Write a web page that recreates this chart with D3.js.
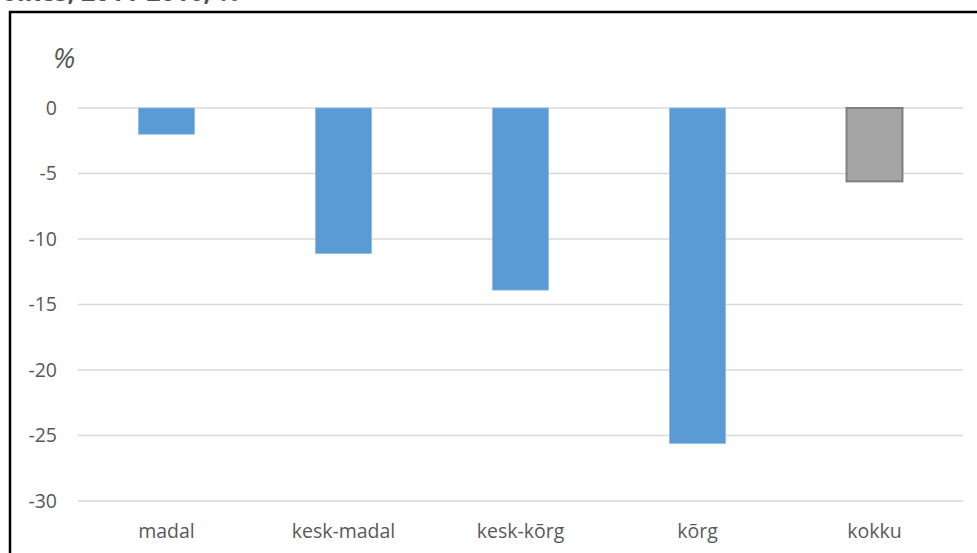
<!DOCTYPE html>
<html><head><meta charset="utf-8">
<script src="https://cdn.jsdelivr.net/npm/d3@7"></script>
<style>body{margin:0;background:#fff;} svg{display:block;}</style>
</head><body>
<svg id="c" width="977" height="553"></svg>
<script>
const categories = ["madal", "kesk-madal", "kesk-kõrg", "kõrg", "kokku"];
const values = [-2.0, -11.1, -13.9, -25.6, -5.6];
const yTicks = [0, -5, -10, -15, -20, -25, -30];
const totalCategory = "kokku";
const titleText = "lõikes, 2011-2016, %";
const unitLabel = "%";

(function () {
const svg = d3.select("#c");
const W = 977, H = 553;
const pLeft = 78, pRight = 963, pTop = 108, pBottom = 501;
const FONT = "Open Sans, sans-serif";

svg.append("rect").attr("width", W).attr("height", H).attr("fill", "#fff");

// cut-off title at very top (as in the reference, only its lower part shows)
svg.append("text").attr("x", -6).attr("y", 1)
  .attr("font-family", FONT).attr("font-weight", "bold")
  .attr("font-size", 25).attr("fill", "#44546A").text(titleText);

// frame
svg.append("rect").attr("x", 10).attr("y", 12).attr("width", W + 10).attr("height", H + 10)
  .attr("fill", "none").attr("stroke", "#000").attr("stroke-width", 2.5);

const x = d3.scaleBand().domain(categories).range([pLeft, pRight]).paddingInner(0.684).paddingOuter(0.342);
const y = d3.scaleLinear().domain([0, -30]).range([pTop, pBottom]);

// gridlines
svg.append("g").selectAll("line").data(yTicks).join("line")
  .attr("x1", pLeft).attr("x2", pRight)
  .attr("y1", d => y(d)).attr("y2", d => y(d))
  .attr("stroke", "#D9D9D9").attr("stroke-width", 1.5);

// y axis labels
const yAxis = d3.axisLeft(y).tickValues(yTicks).tickSize(0).tickPadding(0).tickFormat(d => String(d));
const ya = svg.append("g").attr("transform", "translate(57,0)").call(yAxis);
ya.select(".domain").remove();
ya.selectAll("text").attr("font-family", FONT).attr("font-size", 19.5).attr("fill", "#595959");

// x axis labels
const xAxis = d3.axisBottom(x).tickSize(0).tickPadding(0);
const xa = svg.append("g").attr("transform", "translate(0,524)").call(xAxis);
xa.select(".domain").remove();
xa.selectAll("text").attr("font-family", FONT).attr("font-size", 19.5).attr("fill", "#595959");

// bars
svg.append("g").selectAll("rect").data(categories).join("rect")
  .attr("x", d => x(d)).attr("width", x.bandwidth())
  .attr("y", y(0))
  .attr("height", (d, i) => y(values[i]) - y(0))
  .attr("fill", d => d === totalCategory ? "#A5A5A5" : "#5B9BD5")
  .attr("stroke", d => d === totalCategory ? "#7F7F7F" : "#8DB9E3")
  .attr("stroke-width", d => d === totalCategory ? 2 : 0.8);

// unit label
svg.append("text").attr("x", 53).attr("y", 68)
  .attr("font-family", FONT).attr("font-style", "italic")
  .attr("font-size", 28).attr("fill", "#595959").text(unitLabel);
})();
</script>
</body></html>
